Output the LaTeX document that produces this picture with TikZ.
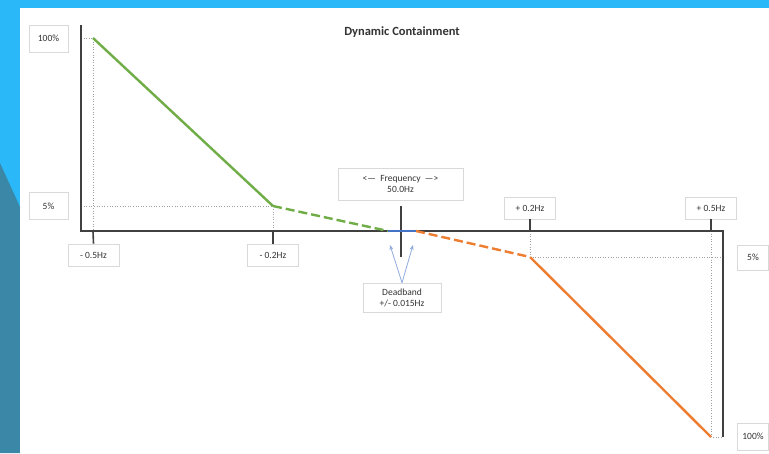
\documentclass[tikz,border=0pt]{standalone}
\usepackage{fontspec}
\setmainfont{Carlito}
\usetikzlibrary{arrows.meta}

\definecolor{skyback}{HTML}{2BB8F8}
\definecolor{tealback}{HTML}{3A87A8}
\definecolor{dcgreen}{HTML}{70AD47}
\definecolor{dcorange}{HTML}{ED7D31}
\definecolor{dcblue}{HTML}{4472C4}
\definecolor{arrowblue}{HTML}{8FAADC}
\definecolor{axisgray}{HTML}{404040}
\definecolor{guidegray}{HTML}{A0A0A0}
\definecolor{boxgray}{HTML}{D9D9D9}

\tikzset{
  labelbox/.style={draw=boxgray,fill=white,line width=.6pt,inner sep=0pt,
    font=\fontsize{9.5}{11}\selectfont,text=black!80,align=center},
  axisline/.style={axisgray,line width=1.6pt},
  guide/.style={guidegray,line width=.6pt,dotted},
  dashline/.style={line width=2.4pt,dash pattern=on 9pt off 4pt}
}

\begin{document}
\begin{tikzpicture}[x=1pt,y=-1pt]

        % backdrop
        \fill[skyback] (0,0) rectangle (769,453);
        \fill[tealback] (0,163) -- (20,207) -- (20,453) -- (0,453) -- cycle;
        \fill[white] (20,8) rectangle (769,453);
        \useasboundingbox (0,0) rectangle (769,453);

        % points of the curve
        \coordinate (top)    at (81,25);
        \coordinate (origin) at (81,231);
        \coordinate (xend)   at (723,231);
        \coordinate (bottom) at (723,437);
        \coordinate (a) at (93,38);
        \coordinate (b) at (273,206);
        \coordinate (c) at (388,231);
        \coordinate (d) at (416,231);
        \coordinate (e) at (530,257);
        \coordinate (f) at (711,437);
        \coordinate (ca) at (401,206);
        \coordinate (cb) at (401,257);
        \coordinate (tipl) at (390,245);
        \coordinate (tipr) at (413,245);

        \node[font=\fontsize{12.5}{14}\selectfont\bfseries,text=black!80] (title) at (402,32) {Dynamic Containment};

        \begin{scope}[every node/.style={labelbox,minimum width=39pt,minimum height=27pt}]
          \node (full)   at (48.5,38.5)  {100\%};
          \node (low)    at (48.5,206)   {5\%};
          \node[minimum width=31pt,minimum height=25pt] (lowr)  at (753,257.5) {5\%};
          \node[minimum width=31pt] (fullr) at (753,436.5) {100\%};
        \end{scope}

        \begin{scope}[every node/.style={labelbox,minimum width=51pt,minimum height=22pt}]
          \node (m5) at (93.5,255)  {- 0.5Hz};
          \node (m2) at (273,255)   {- 0.2Hz};
          \node (p2) at (530,208)   {+ 0.2Hz};
          \node (p5) at (711,208)   {+ 0.5Hz};
          \node[minimum width=125pt,minimum height=32pt] (freq) at (400.5,184) {<—\ \ Frequency\ \ —>\\50.0Hz};
          \node[minimum width=78pt,minimum height=29pt] (dead) at (402,297.5) {Deadband\\+/- 0.015Hz};
        \end{scope}

        % guides
        \begin{scope}[guide]
          \draw (top |- a) -- (a) -- (a |- origin);
          \draw (top |- b) -- (b) -- (b |- origin);
          \draw (e |- origin) -- (e) -- (xend |- e);
          \draw (f |- origin) -- (f) -- (bottom);
        \end{scope}

        % axes and ticks
        \draw[axisline] (top) -- (origin) -- (xend) -- (bottom);
        \draw[axisline] (a |- origin) -- (m5.north);
        \draw[axisline] (b |- origin) -- (m2.north);
        \draw[axisline] (e |- origin) -- (p2.south);
        \draw[axisline] (f |- origin) -- (p5.south);
        \draw[axisline] (ca) -- (cb);

        % response
        \draw[dcgreen,line width=2.4pt] (a) -- (b);
        \draw[dcgreen,dashline] (b) -- (c);
        \draw[dcblue,line width=2.4pt] (c) -- (d);
        \draw[dcorange,dashline] (d) -- (e);
        \draw[dcorange,line width=2.4pt] (e) -- (f);

        \begin{scope}[every edge/.style={draw,arrowblue,line width=.8pt,-{Stealth[length=5pt,width=4pt]}}]
          \path (dead.north) edge (tipl);
          \path (dead.north) edge (tipr);
        \end{scope}

      \end{tikzpicture}
\end{document}
